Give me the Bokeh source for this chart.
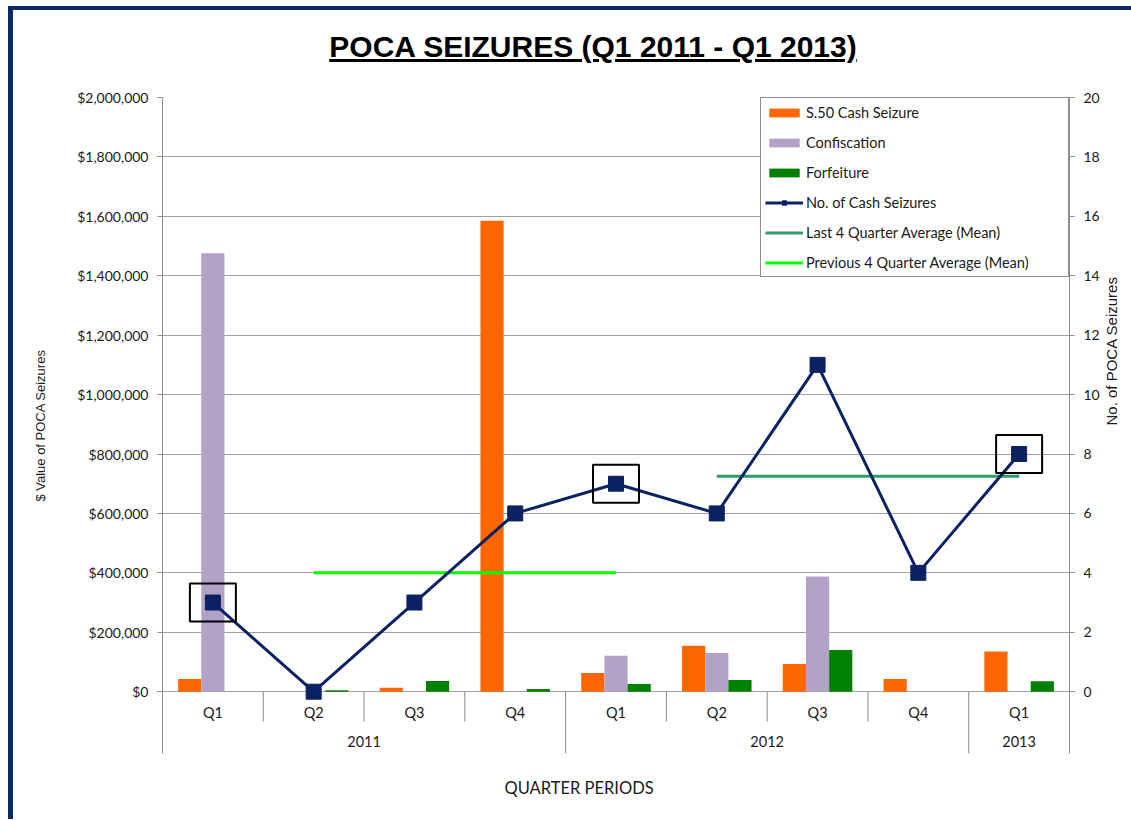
import math
import numpy as np
from bokeh.plotting import figure
from bokeh.models import (FactorRange, Range1d, LinearAxis, FixedTicker, NumeralTickFormatter,
                          ColumnDataSource, Legend, LegendItem, Div, Title)
from bokeh.transform import dodge
from bokeh.layouts import column
from bokeh.core.properties import value
from bokeh.embed import file_html
from bokeh.resources import INLINE

# ---------------- data ----------------
quarters = ["Q1", "Q2", "Q3", "Q4", "Q1", "Q2", "Q3", "Q4", "Q1"]
years = ["2011", "2011", "2011", "2011", "2012", "2012", "2012", "2012", "2013"]
s50_cash = [43000, 0, 13000, 1585000, 63000, 155000, 93000, 43000, 135000]
confiscation = [1476000, 0, 0, 0, 121000, 130000, 388000, 0, 0]
forfeiture = [0, 5000, 36000, 9000, 26000, 39000, 140000, 0, 35000]
cash_count = [3, 0, 3, 6, 7, 6, 11, 4, 8]
value_ticks = [0, 200000, 400000, 600000, 800000, 1000000, 1200000, 1400000,
               1600000, 1800000, 2000000]
count_ticks = [0, 2, 4, 6, 8, 10, 12, 14, 16, 18, 20]

factors = list(zip(years, quarters))
year_groups = list(dict.fromkeys(years))

# ---------------- layout constants ----------------
VAL_MAX = 2_000_000
CNT_MAX = 20
PLOT_PX = 596      # pixels from 0 to max
BELOW_PX = 62      # label band below the zero line, inside the frame
vpp = VAL_MAX / PLOT_PX

NAVY = "#0d2a66"
GRID = "#a0a0a0"
AXIS = "#8c8c8c"
TXT = "#1a1a1a"
LAB_FONT = "Lato"

x_range = FactorRange(*factors, factor_padding=0, subgroup_padding=0,
                      group_padding=0, range_padding=0)
p = figure(x_range=x_range, y_range=Range1d(-BELOW_PX * vpp, VAL_MAX),
           width=1118, height=751, output_backend="svg", toolbar_location=None,
           min_border_left=149, min_border_right=61, min_border_top=29,
           min_border_bottom=64)
p.extra_y_ranges = {"count": Range1d(-BELOW_PX * CNT_MAX / PLOT_PX, CNT_MAX)}
p.outline_line_color = None
p.background_fill_color = "white"
p.border_fill_color = "white"
p.xaxis.visible = False
p.xgrid.visible = False
p.ygrid.ticker = FixedTicker(ticks=value_ticks)
p.ygrid.grid_line_color = GRID

# left axis
ly = p.yaxis[0]
ly.ticker = FixedTicker(ticks=value_ticks)
ly.formatter = NumeralTickFormatter(format="$0,0")
ly.axis_label = "$ Value of POCA Seizures"
ly.axis_label_text_font = "Liberation Sans"
ly.axis_label_text_font_size = "13px"
ly.axis_label_text_font_style = "normal"
ly.axis_label_text_color = TXT
ly.axis_label_standoff = 26
ly.major_label_text_font = LAB_FONT
ly.major_label_text_font_size = "14px"
ly.major_label_text_color = TXT
ly.major_label_standoff = 9
ly.major_tick_in = 0
ly.major_tick_out = 5
ly.minor_tick_line_color = None
ly.axis_line_color = AXIS
ly.major_tick_line_color = AXIS

# right axis
ry = LinearAxis(y_range_name="count", ticker=FixedTicker(ticks=count_ticks),
                axis_label="No. of POCA Seizures")
ry.axis_label_text_font = "Liberation Sans"
ry.axis_label_text_font_size = "15px"
ry.axis_label_text_font_style = "normal"
ry.axis_label_text_color = TXT
ry.axis_label_standoff = 9
ry.axis_label_orientation = math.pi / 2
ry.major_label_text_font = LAB_FONT
ry.major_label_text_font_size = "14px"
ry.major_label_text_color = TXT
ry.major_label_standoff = 9
ry.major_tick_in = 0
ry.major_tick_out = 5
ry.minor_tick_line_color = None
ry.axis_line_color = AXIS
ry.major_tick_line_color = AXIS
p.add_layout(ry, "right")

# ---------------- category labels and separators ----------------
counts_per_year = [years.count(y) for y in year_groups]
year_bounds = [int(b) for b in np.cumsum(counts_per_year)[:-1]]
q_bounds = [i for i in range(1, len(factors)) if i not in year_bounds]
p.segment(x0=q_bounds, x1=q_bounds, y0=0, y1=-30 * vpp, line_color=AXIS, line_width=1)
p.segment(x0=year_bounds, x1=year_bounds, y0=0, y1=-BELOW_PX * vpp,
          line_color=AXIS, line_width=1)
p.text(x=factors, y=-21 * vpp, text=quarters, text_font=value(LAB_FONT),
       text_font_size="14.5px", text_color=TXT, text_align="center",
       text_baseline="middle")
p.text(x=year_groups, y=-50 * vpp, text=year_groups, text_font=value(LAB_FONT),
       text_font_size="14.5px", text_color=TXT, text_align="center",
       text_baseline="middle")

# ---------------- bars ----------------
src = ColumnDataSource(dict(x=factors, s50=s50_cash, conf=confiscation,
                            forf=forfeiture, cnt=cash_count))
bw = 0.23
r_s50 = p.vbar(x=dodge("x", -bw, range=p.x_range), top="s50", width=bw, source=src,
               fill_color="#FF6600", line_color=None)
r_conf = p.vbar(x=dodge("x", 0, range=p.x_range), top="conf", width=bw, source=src,
                fill_color="#B3A2C7", line_color=None)
r_forf = p.vbar(x=dodge("x", bw, range=p.x_range), top="forf", width=bw, source=src,
                fill_color="#008000", line_color=None)

# ---------------- averages ----------------
prev_avg = float(np.mean(cash_count[1:5]))
last_avg = float(np.mean(cash_count[5:9]))
r_last = p.line(x=[factors[5], factors[8]], y=[last_avg, last_avg], y_range_name="count",
                line_color="#339966", line_width=3)
r_prev = p.line(x=[factors[1], factors[4]], y=[prev_avg, prev_avg], y_range_name="count",
                line_color="#00FF00", line_width=3)

# ---------------- count line ----------------
r_line = p.line(x="x", y="cnt", source=src, y_range_name="count",
                line_color="#0b2262", line_width=3)
r_mark = p.scatter(x="x", y="cnt", source=src, y_range_name="count", marker="square",
                   size=15, fill_color="#0b2262", line_color="#0b2262")

q1_x = [f for f, q in zip(factors, quarters) if q == "Q1"]
q1_y = [c for c, q in zip(cash_count, quarters) if q == "Q1"]
p.rect(x=q1_x, y=q1_y, width=46, height=38, width_units="screen", height_units="screen",
       fill_color=None, line_color="black", line_width=2, y_range_name="count")

# ---------------- legend ----------------
legend = Legend(items=[
    LegendItem(label="S.50 Cash Seizure", renderers=[r_s50]),
    LegendItem(label="Confiscation", renderers=[r_conf]),
    LegendItem(label="Forfeiture", renderers=[r_forf]),
    LegendItem(label="No. of Cash Seizures", renderers=[r_line, r_mark]),
    LegendItem(label="Last 4 Quarter Average (Mean)", renderers=[r_last]),
    LegendItem(label="Previous 4 Quarter Average (Mean)", renderers=[r_prev]),
], location="top_right", margin=0, padding=4, spacing=10, label_height=20,
   glyph_height=11, glyph_width=38, label_standoff=3, label_width=258,
   border_line_color="#222222", border_line_width=1.5,
   label_text_font=LAB_FONT, label_text_font_size="14.5px", label_text_color=TXT,
   background_fill_color="white", background_fill_alpha=1)
p.add_layout(legend)

# x-axis title
p.add_layout(Title(text="QUARTER PERIODS", align="left", offset=342, standoff=44,
                   text_font=LAB_FONT, text_font_size="16.5px",
                   text_font_style="normal", text_color=TXT), "below")

title_div = Div(
    text=('<div style="display:block; box-sizing:border-box; width:1118px; '
          'padding:20px 0 0 42px; text-align:center; '
          'font-family:\'Liberation Sans\', Arial, sans-serif; font-weight:bold; '
          'font-size:30px; text-decoration:underline; color:#000; line-height:1.15;">'
          'POCA SEIZURES (Q1 2011 - Q1 2013)</div>'),
    width=1118, height=58, margin=0)

layout = column(title_div, p, margin=(6, 0, 0, 8),
                styles={"border-top": "4px solid " + NAVY,
                        "border-left": "5px solid " + NAVY})

open("out.html", "w").write(file_html(layout, INLINE))
